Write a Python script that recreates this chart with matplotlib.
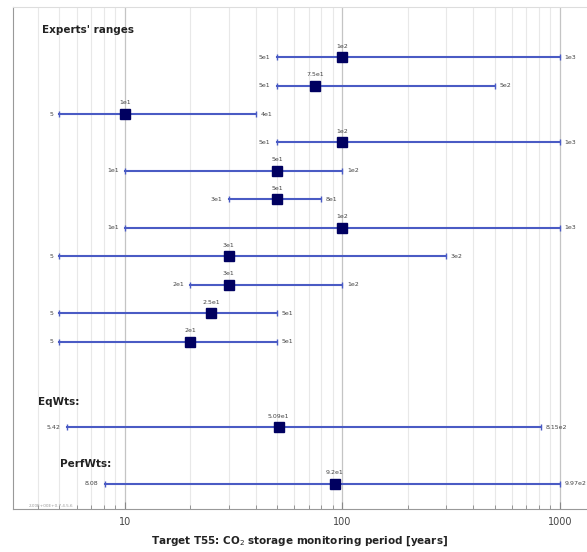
import numpy as np
import matplotlib
matplotlib.use("Agg")
import matplotlib.pyplot as plt
from matplotlib.ticker import LogLocator, NullFormatter, FixedLocator, FixedFormatter

# expert ranges: low, median, high
lows = [50, 50, 5, 50, 10, 30, 10, 5, 20, 5, 5]
medians = [100, 75, 10, 100, 50, 50, 100, 30, 30, 25, 20]
highs = [1000, 500, 40, 1000, 100, 80, 1000, 300, 100, 50, 50]
low_labels = ["5e1", "5e1", "5", "5e1", "1e1", "3e1", "1e1", "5", "2e1", "5", "5"]
med_labels = ["1e2", "7.5e1", "1e1", "1e2", "5e1", "5e1", "1e2", "3e1", "3e1", "2.5e1", "2e1"]
high_labels = ["1e3", "5e2", "4e1", "1e3", "1e2", "8e1", "1e3", "3e2", "1e2", "5e1", "5e1"]

# pooled results
pool_names = ["EqWts:", "PerfWts:"]
pool_lows = [5.42, 8.08]
pool_medians = [50.9, 92.0]
pool_highs = [815, 997]
pool_low_labels = ["5.42", "8.08"]
pool_med_labels = ["5.09e1", "9.2e1"]
pool_high_labels = ["8.15e2", "9.97e2"]

BAR = "#4a5bc4"
MARK = "#000060"
TXT = "#444444"

fig = plt.figure(figsize=(5.87, 5.52), dpi=100)
ax = fig.add_axes([0.0221, 0.0779, 0.9779, 0.9094])
ax.set_xscale("log")
ax.set_xlim(3.06, 1330)
ax.set_ylim(15.88, -1.76)


def draw_row(y, lo, med, hi, lo_s, med_s, hi_s):
    ax.plot([lo, hi], [y, y], color=BAR, lw=1.5, zorder=3)
    ax.plot([lo, hi], [y, y], ls="none", marker="|", ms=5, mew=1.0, color=BAR, zorder=3)
    ax.plot([med], [y], ls="none", marker="s", ms=6.5, color=MARK, zorder=4)
    ax.text(lo / 1.07, y, lo_s, ha="right", va="center", fontsize=4.5, color=TXT)
    ax.text(hi * 1.05, y, hi_s, ha="left", va="center", fontsize=4.5, color=TXT)
    ax.text(med, y - 0.3, med_s, ha="center", va="bottom", fontsize=4.5, color=TXT)


for i in range(len(lows)):
    draw_row(i, lows[i], medians[i], highs[i], low_labels[i], med_labels[i], high_labels[i])

pool_rows = [13, 15]
pool_title_rows = [12.12, 14.3]
pool_title_x = [3.98, 5.02]
for j in range(len(pool_names)):
    draw_row(pool_rows[j], pool_lows[j], pool_medians[j], pool_highs[j],
             pool_low_labels[j], pool_med_labels[j], pool_high_labels[j])
    ax.text(pool_title_x[j], pool_title_rows[j], pool_names[j], fontsize=7.5,
            fontweight="bold", color="#222222", ha="left", va="center")

ax.text(4.15, -0.95, "Experts' ranges", fontsize=7.5, fontweight="bold",
        color="#222222", ha="left", va="center")

# grid
ax.xaxis.set_major_locator(FixedLocator([10, 100, 1000]))
ax.xaxis.set_major_formatter(FixedFormatter(["10", "100", "1000"]))
ax.xaxis.set_minor_locator(LogLocator(base=10, subs=np.arange(2, 10)))
ax.xaxis.set_minor_formatter(NullFormatter())
ax.grid(True, which="major", axis="x", color="#c4c4c4", lw=0.9, zorder=0)
ax.grid(True, which="minor", axis="x", color="#e8e8e8", lw=0.8, zorder=0)
ax.set_yticks([])
ax.tick_params(axis="x", which="both", direction="in", color="#888888",
               labelsize=7, labelcolor="#444444", pad=6)
ax.tick_params(axis="x", which="major", length=5)
ax.tick_params(axis="x", which="minor", length=3)
ax.spines["top"].set_color("#dddddd")
ax.spines["right"].set_visible(False)
for s in ["left", "bottom"]:
    ax.spines[s].set_color("#999999")

ax.text(3.6, 15.85, "2.00E+00E+0.7.4.5.6", fontsize=3, color="#999999",
        ha="left", va="bottom")

ax.set_xlabel("Target T55: CO$_2$ storage monitoring period [years]",
              fontsize=7.5, fontweight="bold", color="#222222", labelpad=5)

fig.savefig("out.png", dpi=100)
